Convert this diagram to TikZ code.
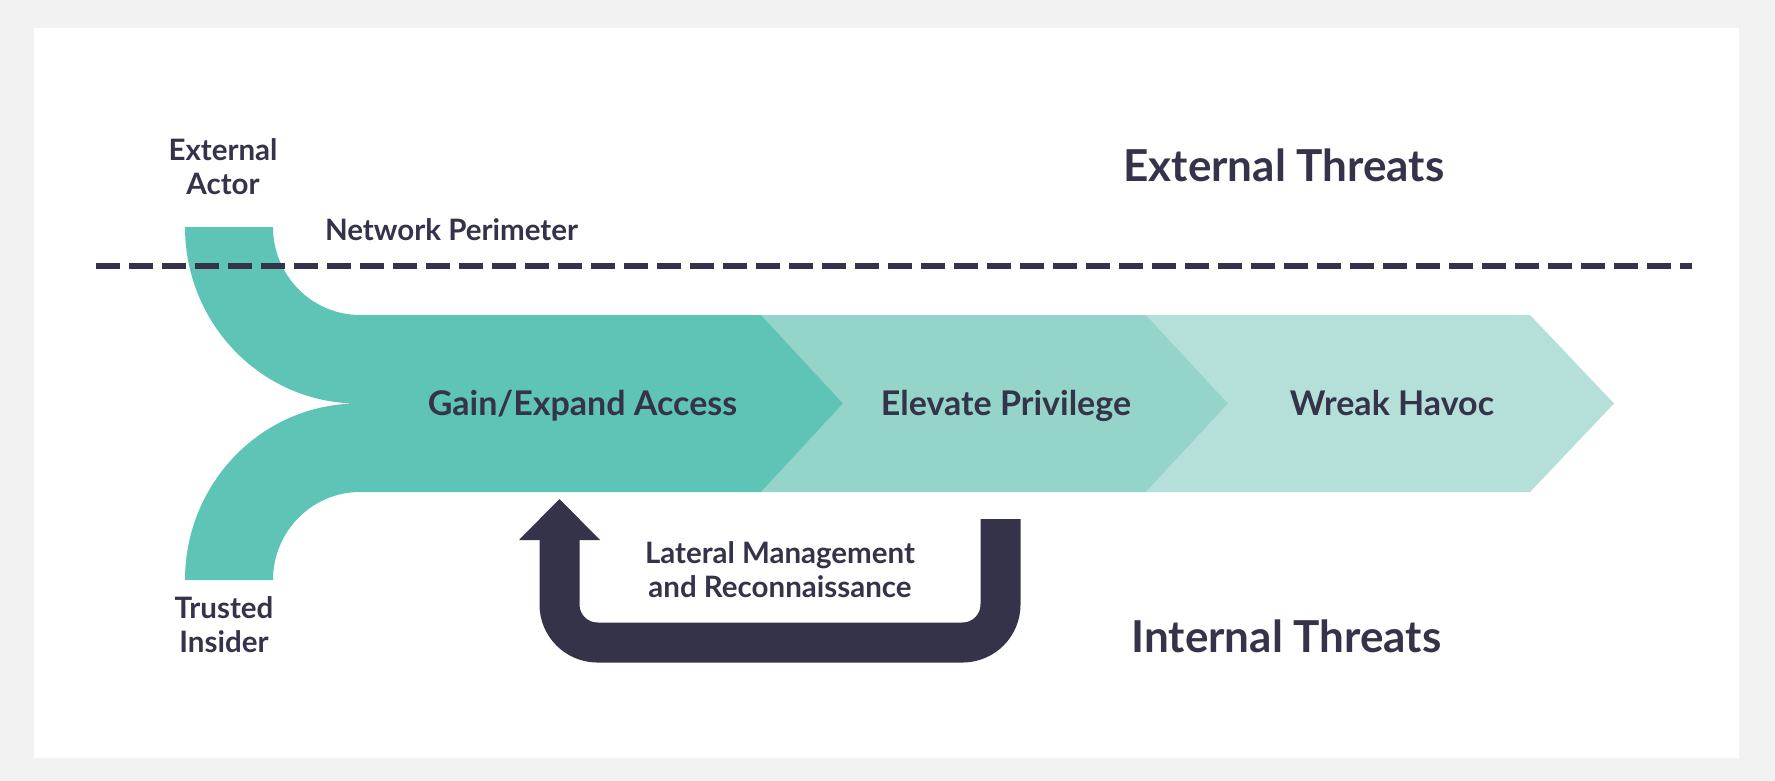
\documentclass[tikz,border=0pt]{standalone}
\usepackage{fontspec}
\setmainfont{Lato}
\definecolor{bgray}{HTML}{F2F2F2}
\definecolor{tealA}{HTML}{5EC4B5}
\definecolor{tealB}{HTML}{94D4C9}
\definecolor{tealC}{HTML}{B5E0DA}
\definecolor{navy}{HTML}{35334A}
\begin{document}
\begin{tikzpicture}[x=1pt,y=-1pt,
  lbl/.style={text=navy, font=\bfseries\fontsize{29.5}{34}\selectfont, align=center, inner sep=0pt, anchor=base},
  stage/.style={text=navy, font=\bfseries\fontsize{34}{40}\selectfont, inner sep=0pt, anchor=base},
  title/.style={text=navy, font=\bfseries\fontsize{44}{50}\selectfont, inner sep=0pt, anchor=base}]
\fill[bgray] (0,0) rectangle (1775,781);
\fill[white] (34,28) rectangle (1739,758);
\useasboundingbox (0,0) rectangle (1775,781);
% stages
\fill[tealC] (1146,315) -- (1530,315) -- (1614,403.5) -- (1530,492) -- (1146,492) -- (1228,403.5) -- cycle;
\fill[tealB] (761,315) -- (1146,315) -- (1228,403.5) -- (1146,492) -- (761,492) -- (843,403.5) -- cycle;
\fill[tealA] (185,227) -- (273,227) .. controls (273,275.6) and (312,315) .. (360,315)
  -- (761,315) -- (843,403.5) -- (761,492) -- (360,492)
  .. controls (312,492) and (273,531.4) .. (273,580) -- (185,580)
  .. controls (185,482.5) and (262.5,403.5) .. (358,403.5)
  .. controls (262.5,403.5) and (185,324.5) .. (185,227) -- cycle;
% perimeter
\coordinate (pl) at (96,266);
\coordinate (pr) at (1692,266);
\draw[navy, line width=6pt, dash pattern=on 24pt off 9pt] (pl) -- (pr);
% lateral arrow
\coordinate (ra) at (1000.5,519);
\coordinate (rb) at (1000.5,642.5);
\coordinate (lb) at (559.5,642.5);
\coordinate (la) at (559.5,538);
\draw[navy, line width=40pt, rounded corners=38pt] (ra) -- (rb) -- (lb) -- (la);
\fill[navy] (519,540) -- (559.5,499) -- (600,540) -- cycle;
% labels (base anchor = baseline of last line)
\node[lbl] (ea) at (223,194) {External\\Actor};
\node[lbl] (np) at (451.5,240) {Network Perimeter};
\node[lbl] (ti) at (224,652) {Trusted\\Insider};
\node[lbl] (lm) at (780,597) {Lateral Management\\and Reconnaissance};
\node[stage] (s1) at (582.5,415) {Gain/Expand Access};
\node[stage] (s2) at (1006,415) {Elevate Privilege};
\node[stage] (s3) at (1392,415) {Wreak Havoc};
\node[title] (et) at (1284,182) {External Threats};
\node[title] (it) at (1286.5,652) {Internal Threats};
\end{tikzpicture}
\end{document}
